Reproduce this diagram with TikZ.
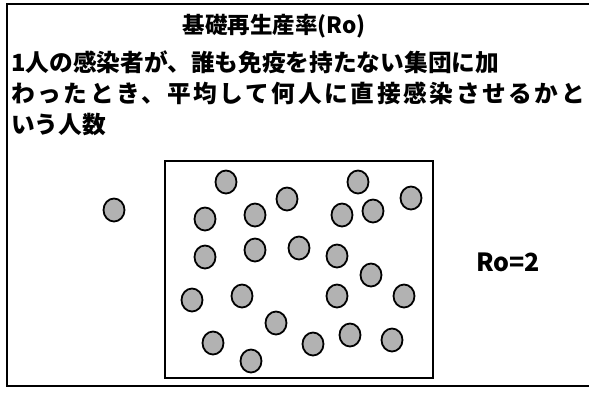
\documentclass[tikz,border=0pt]{standalone}
\usepackage{fontspec}
\newfontfamily\jp{Noto Sans CJK JP}
\usetikzlibrary{shapes.geometric}
\tikzset{
  frameline/.style={line width=1.8pt, black},
  person/.style={ellipse, draw=black, line width=1.8pt, fill=black!30, minimum width=21pt, minimum height=23pt, inner sep=0pt},
  txt/.style={inner sep=0pt, anchor=west, font=\jp\bfseries\fontsize{23.7}{28}\selectfont}
}
\begin{document}
\begin{tikzpicture}[x=1pt,y=-1pt]
\useasboundingbox (0,0) rectangle (589,392);
\fill[white] (0,0) rectangle (589,392);
% outer frame (right edge cut off)
\draw[frameline] (589,4) -- (7,4) -- (7,386) -- (589,386);
% texts
\node[inner sep=0pt, font=\jp\bfseries\fontsize{22.5}{26}\selectfont] (title) at (274,26) {基礎再生産率(Ro)};
\node[txt] (l1) at (11,62) {1人の感染者が、誰も免疫を持たない集団に加};
\node[txt] (l2) at (11,93) {\addfontfeature{LetterSpace=11}わったとき、平均して何人に直接感染させるかと};
\node[txt] (l3) at (11,125) {いう人数};
% inner box
\draw[frameline] (165,161) rectangle (433,378);
% persons
\node[person] (p0) at (114,210) {};
\node[person] (p1) at (226,182) {};
\node[person] (p2) at (358,182) {};
\node[person] (p3) at (287,199) {};
\node[person] (p4) at (411,198) {};
\node[person] (p5) at (205,219) {};
\node[person] (p6) at (255,215) {};
\node[person] (p7) at (342,215) {};
\node[person] (p8) at (373,211) {};
\node[person] (p9) at (205,257) {};
\node[person] (p10) at (255,250) {};
\node[person] (p11) at (299,248) {};
\node[person] (p12) at (337,256) {};
\node[person] (p13) at (371,275) {};
\node[person] (p14) at (192,300) {};
\node[person] (p15) at (242,296) {};
\node[person] (p16) at (337,296) {};
\node[person] (p17) at (404,296) {};
\node[person] (p18) at (276,323) {};
\node[person] (p19) at (213,343) {};
\node[person] (p20) at (313,344) {};
\node[person] (p21) at (350,335) {};
\node[person] (p22) at (392,340) {};
\node[person] (p23) at (251,361) {};
% R0 label
\node[inner sep=0pt, font=\jp\bfseries\fontsize{25}{29}\selectfont] (r0) at (508,262) {Ro=2};
\end{tikzpicture}
\end{document}
